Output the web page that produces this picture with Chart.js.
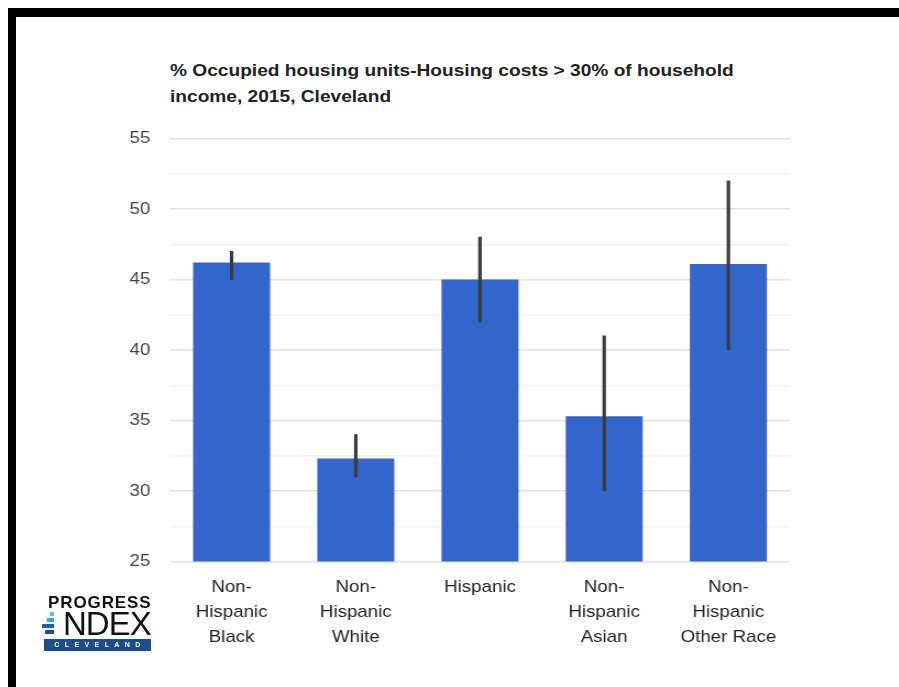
<!DOCTYPE html>
<html>
<head>
<meta charset="utf-8">
<script src="https://cdn.jsdelivr.net/npm/chart.js@4.4.1/dist/chart.umd.min.js"></script>
<style>
  body { margin: 0; background: #fff; }
  #wrap { position: relative; width: 899px; height: 687px; overflow: hidden; background: #fff; }
  #topbar { position: absolute; left: 8px; top: 8px; width: 891px; height: 9px; background: #000; }
  #leftbar { position: absolute; left: 8px; top: 8px; width: 8px; height: 679px; background: #000; }
  #title { position: absolute; left: 170px; top: 58px; font: bold 17px "Liberation Sans", Arial, sans-serif; line-height: 26px; color: #222; white-space: nowrap; transform: scaleX(1.125); transform-origin: 0 0; }
  /* the source picture is a bit wider than tall, so the canvas is stretched the same way */
  #chart { position: absolute; left: 0; top: 0; transform: scaleX(1.1); transform-origin: 0 0; }
  .logo { position: absolute; font-family: "Liberation Sans", Arial, sans-serif; }
  #lg1 { left: 48px; top: 594px; font-weight: bold; font-size: 17px; letter-spacing: 0.9px; color: #111; line-height: 17px; }
  #lg2 { left: 63px; top: 607px; font-size: 33px; letter-spacing: -1px; color: #111; line-height: 33px; }
  #lg3 { left: 44px; top: 639px; width: 107px; height: 12px; background: #1d4c91; color: #fff; font-size: 7px; font-weight: bold; letter-spacing: 5.4px; line-height: 12px; text-align: center; text-indent: 5px; }
  .sq { position: absolute; }
</style>
</head>
<body>
<div id="wrap">
  <div id="topbar"></div>
  <div id="leftbar"></div>
  <div id="title">% Occupied housing units-Housing costs &gt; 30% of household<br>income, 2015, Cleveland</div>
  <canvas id="chart" width="817" height="687"></canvas>
  <div class="logo" id="lg1">PROGRESS</div>
  <div class="logo" id="lg2">NDEX</div>
  <div class="sq" style="left:50px;top:612px;width:4px;height:4px;background:#5bc2ee"></div>
  <div class="sq" style="left:47px;top:618px;width:7px;height:4px;background:#3aa7e0"></div>
  <div class="sq" style="left:42px;top:624px;width:12px;height:4px;background:#1f5fae"></div>
  <div class="sq" style="left:45px;top:630px;width:9px;height:4px;background:#1d4c91"></div>
  <div class="logo" id="lg3">CLEVELAND</div>
</div>
<script>
// categories and values
const categories = [
    ['Non-', 'Hispanic', 'Black'],
    ['Non-', 'Hispanic', 'White'],
    'Hispanic',
    ['Non-', 'Hispanic', 'Asian'],
    ['Non-', 'Hispanic', 'Other Race']
];
const values = [46.2, 32.3, 45.0, 35.3, 46.1];
const errLow = [45, 31, 42, 30, 40];
const errHigh = [47, 34, 48, 41, 52];
const yMin = 25;
const yMax = 55;
const yStep = 2.5;

const ranges = errLow.map((lo, i) => [lo, errHigh[i]]);
const font = '"Liberation Sans", Arial, sans-serif';

const ctx = document.getElementById('chart').getContext('2d');
const myChart = new Chart(ctx, {
    type: 'bar',
    data: {
        labels: categories,
        datasets: [{
            label: 'interval',
            data: ranges,
            backgroundColor: '#3b3b3b',
            barThickness: 2.5,
            grouped: false,
            order: 0
        }, {
            label: 'value',
            data: values,
            backgroundColor: '#3366cc',
            barPercentage: 0.62,
            categoryPercentage: 1,
            grouped: false,
            order: 1
        }]
    },
    options: {
        responsive: false,
        animation: false,
        layout: { padding: { left: 99.6, right: 98.4, top: 138.5, bottom: 25.5 } },
        plugins: {
            legend: { display: false },
            tooltip: { enabled: false },
            title: { display: false }
        },
        scales: {
            x: {
                grid: { display: false },
                border: { display: false },
                ticks: {
                    color: '#222',
                    padding: 5,
                    maxRotation: 0,
                    font: { family: font, size: 17, lineHeight: 25 / 17 }
                },
                afterFit: function(scale) { scale.height = 100; }
            },
            y: {
                min: yMin,
                max: yMax,
                border: { display: false },
                grid: {
                    drawTicks: false,
                    lineWidth: 1.5,
                    color: function(c) {
                        return c.tick && c.tick.value % 5 === 0 ? '#e2e2e2' : '#f2f2f2';
                    }
                },
                ticks: {
                    stepSize: yStep,
                    padding: 17.5,
                    color: '#444',
                    font: { family: font, size: 17 },
                    callback: function(v) { return v % 5 === 0 ? v : ''; }
                },
                afterFit: function(scale) { scale.width = 54.5; }
            }
        }
    }
});
</script>
</body>
</html>
